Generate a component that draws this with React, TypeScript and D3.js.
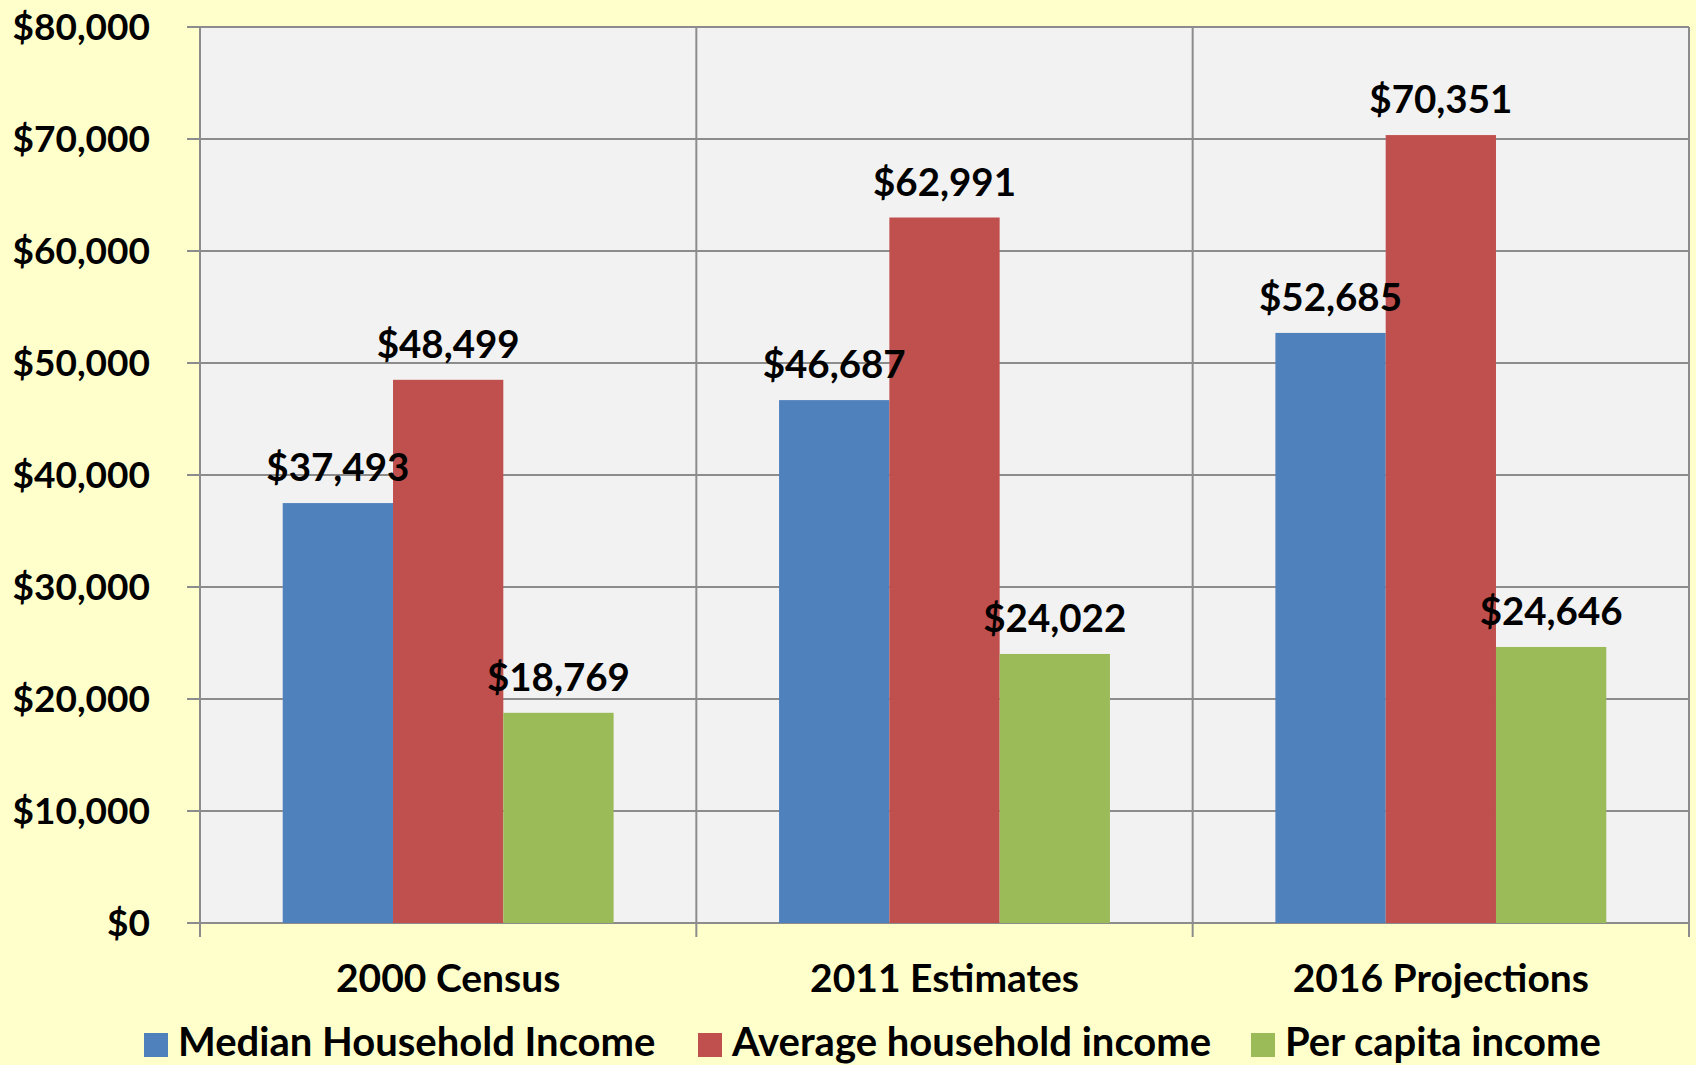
import React, { useEffect, useRef } from 'react';
import * as d3 from 'd3';

// chart data
const categories = ['2000 Census', '2011 Estimates', '2016 Projections'];
const seriesNames = ['Median Household Income', 'Average household income', 'Per capita income'];
const medianIncome = [37493, 46687, 52685];
const averageIncome = [48499, 62991, 70351];
const perCapitaIncome = [18769, 24022, 24646];
const yTicks = [0, 10000, 20000, 30000, 40000, 50000, 60000, 70000, 80000];

const colors = ['#4F81BD', '#C0504D', '#9BBB59'];
const FONT = 'Lato, "Open Sans", sans-serif';

export default function App() {
  const ref = useRef<SVGSVGElement | null>(null);

  useEffect(() => {
    const W = 1696, H = 1065;
    const m = { top: 27, right: 7, bottom: 142, left: 200 };
    const w = W - m.left - m.right;
    const h = H - m.top - m.bottom;

    const svg = d3.select(ref.current);
    svg.selectAll('*').remove();

    svg.append('rect').attr('width', W).attr('height', H).attr('fill', '#FFFFCC');

    const g = svg.append('g').attr('transform', `translate(${m.left},${m.top})`);

    const x = d3.scaleBand<string>().domain(categories).range([0, w]).paddingInner(0).paddingOuter(0);
    // bars fill about two thirds of each category
    const x1 = d3.scaleBand<number>().domain([0, 1, 2]).range([0, x.bandwidth()]).paddingOuter(0.75);
    const y = d3.scaleLinear().domain([0, 80000]).range([h, 0]);

    // plot background
    g.append('rect').attr('width', w).attr('height', h).attr('fill', '#F2F2F2');

    const gridColor = '#8C8C8C';

    // horizontal gridlines + y ticks
    g.selectAll('line.hgrid').data(yTicks).enter().append('line')
      .attr('x1', -13).attr('x2', w)
      .attr('y1', d => y(d)).attr('y2', d => y(d))
      .attr('stroke', gridColor).attr('stroke-width', 2);

    // vertical gridlines at category boundaries (with tick below axis)
    const bounds = [0, ...categories.map(c => (x(c) as number) + x.bandwidth())];
    g.selectAll('line.vgrid').data(bounds).enter().append('line')
      .attr('x1', d => d).attr('x2', d => d)
      .attr('y1', 0).attr('y2', h + 14)
      .attr('stroke', gridColor).attr('stroke-width', 2);

    // y tick labels
    g.selectAll('text.ytick').data(yTicks).enter().append('text')
      .attr('x', -50).attr('y', d => y(d))
      .attr('dy', '0.35em')
      .attr('text-anchor', 'end')
      .attr('font-family', FONT).attr('font-weight', 'bold').attr('font-size', 37)
      .text(d => d3.format('$,')(d));

    const series = [medianIncome, averageIncome, perCapitaIncome];

    series.forEach((vals, si) => {
      const grp = g.append('g');
      grp.selectAll('rect').data(vals).enter().append('rect')
        .attr('x', (d, i) => (x(categories[i]) as number) + (x1(si) as number))
        .attr('width', x1.bandwidth())
        .attr('y', d => y(d))
        .attr('height', d => h - y(d))
        .attr('fill', colors[si]);
    });

    // value labels drawn after bars so they sit on top
    series.forEach((vals, si) => {
      g.selectAll(null).data(vals).enter().append('text')
        .attr('x', (d, i) => (x(categories[i]) as number) + (x1(si) as number) + x1.bandwidth() / 2)
        .attr('y', d => y(d) - 22)
        .attr('text-anchor', 'middle')
        .attr('font-family', FONT).attr('font-weight', 'bold').attr('font-size', 38.5)
        .text(d => d3.format('$,')(d));
    });

    // category labels
    g.selectAll('text.cat').data(categories).enter().append('text')
      .attr('x', d => (x(d) as number) + x.bandwidth() / 2)
      .attr('y', h + 69)
      .attr('text-anchor', 'middle')
      .attr('font-family', FONT).attr('font-weight', 'bold').attr('font-size', 39)
      .text(d => d);

    // legend (bottom edge clips the descenders, as in the original)
    const legendX = [144, 698, 1251];
    const lg = svg.append('g');
    seriesNames.forEach((name, i) => {
      lg.append('rect').attr('x', legendX[i]).attr('y', 1033).attr('width', 24).attr('height', 24).attr('fill', colors[i]);
      lg.append('text').attr('x', legendX[i] + 34).attr('y', 1056)
        .attr('font-family', FONT).attr('font-weight', 'bold').attr('font-size', 40)
        .text(name);
    });
  }, []);

  return (
    <svg ref={ref} width={1696} height={1065} style={{ position: 'absolute', left: 0, top: 0, display: 'block' }} />
  );
}
